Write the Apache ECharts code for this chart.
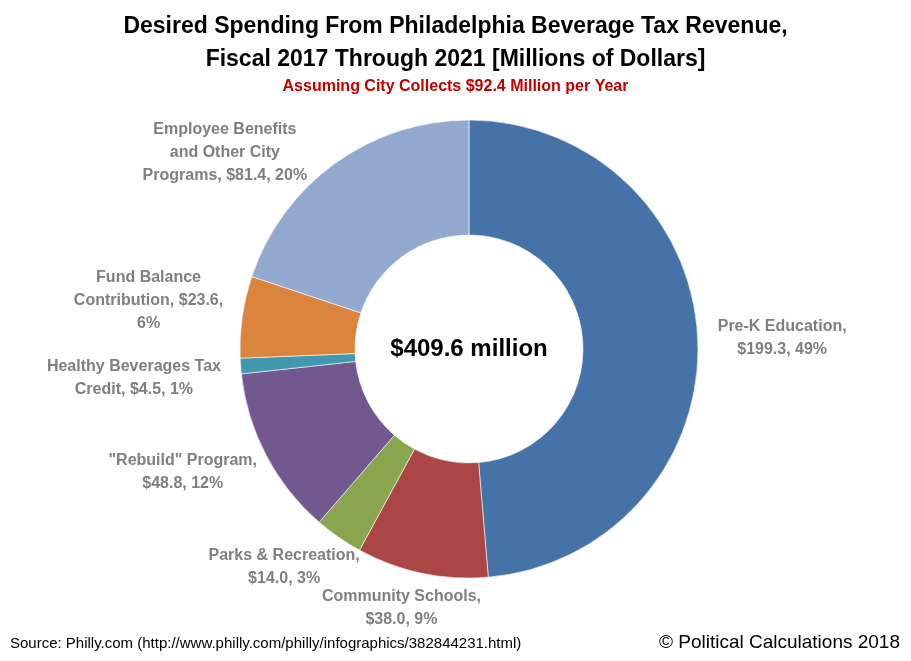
<!DOCTYPE html>
<html>
<head>
    <meta charset="UTF-8">
    <title>Philadelphia Beverage Tax Spending</title>
    <script src="https://cdn.jsdelivr.net/npm/echarts@6/dist/echarts.min.js"></script>
    <style>
        html, body { margin: 0; padding: 0; background: #fff; }
        #chart { width: 911px; height: 661px; }
    </style>
</head>
<body>
    <div id="chart"></div>
    <script>
        // data (millions of dollars)
        var categories = ['Pre-K Education', 'Community Schools', 'Parks & Recreation', '"Rebuild" Program',
            'Healthy Beverages Tax Credit', 'Fund Balance Contribution', 'Employee Benefits and Other City Programs'];
        var values = [199.3, 38.0, 14.0, 48.8, 4.5, 23.6, 81.4];
        // how each label is wrapped, as in the original
        var labelNames = ['Pre-K Education,\n', 'Community Schools,\n', 'Parks & Recreation,\n', '"Rebuild" Program,\n',
            'Healthy Beverages Tax\nCredit, ', 'Fund Balance\nContribution, ', 'Employee Benefits\nand Other City\nPrograms, '];
        var pctSep = [', ', ', ', ', ', ', ', ', ', ',\n', ', '];
        var colors = ['#4572A7', '#AA4643', '#89A54E', '#71588F', '#4198AF', '#DB843D', '#93A9CF'];

        var total = values.reduce(function (a, b) { return a + b; }, 0);
        var font = "'Liberation Sans', Arial, sans-serif";
        var cx = 469, cy = 349, rIn = 114, rOut = 229;
        var gapX = 20, gapY = 13, topLimit = 118, lineH = 23, minSpace = 20;

        function labelText(i) {
            return labelNames[i] + '$' + values[i].toFixed(1) + pctSep[i] + Math.round(values[i] / total * 100) + '%';
        }

        // mid angle of each slice (clockwise from 12 o'clock) and a first guess of label height / y
        var dirs = [], heights = [], ys = [], clamped = [];
        var run = 0;
        values.forEach(function (v, i) {
            var a = (run + v / 2) / total * Math.PI * 2;
            run += v;
            var dx = Math.sin(a), dy = -Math.cos(a);
            var h = labelText(i).split('\n').length * lineH;
            var y = cy + dy * (rOut + gapY) + dy * h / 2;
            clamped.push(false);
            if (y - h / 2 < topLimit) { y = topLimit + h / 2; clamped[i] = true; }
            dirs.push([dx, dy]); heights.push(h); ys.push(y);
        });

        // spread labels stacked on the sides so they do not crowd each other
        [-1, 1].forEach(function (side) {
            var idx = [];
            dirs.forEach(function (d, i) { if (d[0] * side > 0.5) idx.push(i); });
            idx.sort(function (a, b) { return ys[a] - ys[b]; });
            for (var k = 1; k < idx.length; k++) {
                var p = idx[k - 1], q = idx[k];
                var space = (ys[q] - heights[q] / 2) - (ys[p] + heights[p] / 2);
                if (space < minSpace) {
                    var push = (minSpace - space) / 2;
                    ys[p] -= push; ys[q] += push;
                }
            }
        });

        var chart = echarts.init(document.getElementById('chart'), null, { renderer: 'canvas' });

        chart.setOption({
            backgroundColor: '#fff',
            color: colors,
            title: [{
                text: 'Desired Spending From Philadelphia Beverage Tax Revenue,\nFiscal 2017 Through 2021 [Millions of Dollars]',
                left: 'center', top: 5,
                textStyle: { fontFamily: font, fontSize: 23, fontWeight: 'bold', color: '#000', lineHeight: 33 }
            }, {
                text: 'Assuming City Collects $92.4 Million per Year',
                left: 'center', top: 74,
                textStyle: { fontFamily: font, fontSize: 16, fontWeight: 'bold', color: '#C00000' }
            }, {
                text: '$' + total.toFixed(1) + ' million',
                left: cx, top: cy, padding: 0, textAlign: 'center', textVerticalAlign: 'middle',
                textStyle: { fontFamily: font, fontSize: 24, fontWeight: 'bold', color: '#000' }
            }, {
                text: 'Source: Philly.com (http://www.philly.com/philly/infographics/382844231.html)',
                left: 5, top: 631,
                textStyle: { fontFamily: font, fontSize: 15, fontWeight: 'normal', color: '#000' }
            }, {
                text: '\u00A9 Political Calculations 2018',
                right: 6, top: 628,
                textStyle: { fontFamily: font, fontSize: 19, fontWeight: 'normal', color: '#000' }
            }],
            series: [{
                type: 'pie',
                center: [cx, cy],
                radius: [rIn, rOut],
                startAngle: 90,
                clockwise: true,
                avoidLabelOverlap: false,
                silent: true,
                itemStyle: { borderColor: '#fff', borderWidth: 0.6 },
                label: {
                    show: true,
                    position: 'outside',
                    fontFamily: font,
                    fontSize: 16,
                    fontWeight: 'bold',
                    color: '#7F7F7F',
                    lineHeight: lineH,
                    formatter: function (p) { return labelText(p.dataIndex); }
                },
                labelLine: { show: false },
                labelLayout: function (p) {
                    var i = p.dataIndex;
                    var dx = dirs[i][0];
                    var w = p.labelRect.width, h = heights[i];
                    var y = ys[i];
                    var x = cx + dx * (rOut + gapX) + dx * w / 2;
                    if (clamped[i]) {
                        // pushed down under the titles: slide sideways until clear of the ring
                        var ny = Math.abs(y + h / 2 - cy);
                        var nx = Math.sqrt(Math.max(rOut * rOut - ny * ny, 0));
                        x = dx < 0 ? cx - nx - w / 2 : cx + nx + w / 2;
                    }
                    return { x: x, y: y, align: 'center', verticalAlign: 'middle' };
                },
                data: categories.map(function (c, i) { return { name: c, value: values[i] }; })
            }]
        });
    </script>
</body>
</html>
